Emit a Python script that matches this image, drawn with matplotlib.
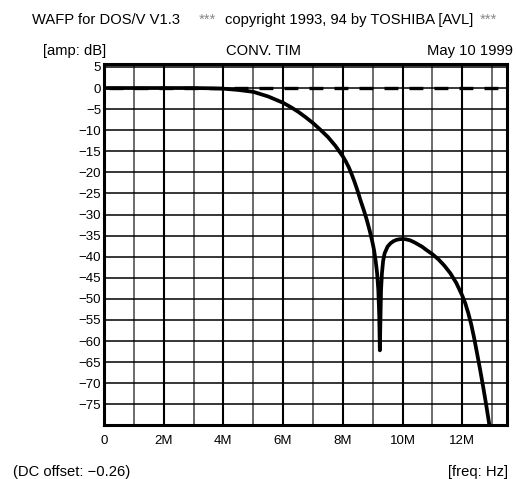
import matplotlib
matplotlib.use("Agg")
import matplotlib.pyplot as plt
from matplotlib.ticker import FuncFormatter

plt.rcParams["font.family"] = ["Liberation Sans", "DejaVu Sans"]
plt.rcParams["lines.scale_dashes"] = False

# frequency response (MHz, dB)
freq_mhz = [0, 1, 2, 3, 3.5, 4, 4.5, 5, 5.5, 6, 6.25, 6.5, 6.75, 7, 7.25,
            7.5, 7.75, 8, 8.1, 8.2, 8.3, 8.4, 8.5, 8.6, 8.7, 8.8, 8.9, 9.0,
            9.05, 9.1, 9.15, 9.19, 9.22, 9.24, 9.26, 9.28, 9.31, 9.35, 9.4,
            9.5, 9.6, 9.7, 9.8, 9.9, 10.0, 10.1, 10.25, 10.4, 10.5, 10.65,
            10.8, 11.0, 11.2, 11.4, 11.6, 11.8, 12.0, 12.1, 12.2, 12.3, 12.4,
            12.5, 12.6, 12.7, 12.8, 12.9, 12.95]
amp_db = [0, 0, 0, 0, -0.05, -0.15, -0.45, -0.9, -2.0, -3.5, -4.5, -5.6,
          -6.9, -8.3, -9.9, -11.6, -13.7, -16.2, -17.4, -18.8, -20.5, -22.4,
          -24.5, -26.8, -28.9, -31.2, -33.8, -36.8, -38.6, -41, -44, -48,
          -54, -62.2, -55, -48, -44, -41, -39.2, -37.6, -36.8, -36.3, -36.0,
          -35.85, -35.8, -35.85, -36.1, -36.6, -37, -37.6, -38.4, -39.4,
          -40.6, -42.1, -43.9, -46.2, -49.2, -51, -53.3, -56, -59.3, -63,
          -66.8, -70.8, -75, -79.5, -81.5]
ref_db = 0.0

y_ticks = list(range(5, -80, -5))
x_ticks_mhz = [0, 2, 4, 6, 8, 10, 12]

fig = plt.figure(figsize=(5.16, 4.79), dpi=100)
ax = fig.add_axes([104 / 516, 1 - 425.4 / 479, 403 / 516, 361.4 / 479])

ax.set_xlim(0, 13.5)
ax.set_ylim(-80, 5.7)

# grid: even MHz heavier than odd
for m in range(1, 14):
    if m % 2 == 0:
        ax.axvline(m, color="black", lw=1.5, zorder=1)
    else:
        ax.axvline(m, color="#444444", lw=1.1, zorder=1)
for v in y_ticks:
    ax.axhline(v, color="black", lw=1.1, zorder=1)

ax.plot([0, 13.5], [ref_db, ref_db], color="black", lw=2.4,
        linestyle=(14.4, (10, 8)), solid_capstyle="butt", zorder=2)
ax.plot(freq_mhz, amp_db, color="black", lw=2.7, zorder=3,
        solid_joinstyle="round")

for s in ax.spines.values():
    s.set_linewidth(2.2)
    s.set_zorder(4)

ax.set_yticks(y_ticks)
ax.set_xticks(x_ticks_mhz)
ax.xaxis.set_major_formatter(FuncFormatter(lambda v, p: "0" if v == 0 else f"{int(v)}M"))
ax.yaxis.set_major_formatter(FuncFormatter(lambda v, p: f"{int(v)}".replace("-", "\u2212")))
ax.tick_params(length=0, labelsize=9.5, pad=2)
ax.tick_params(axis="x", pad=7)

fs = 10.6
fig.text(32 / 516, 1 - 24 / 479, "WAFP for DOS/V V1.3", fontsize=fs, va="baseline")
fig.text(199 / 516, 1 - 24 / 479, "***", fontsize=fs, va="baseline", color="#888888")
fig.text(225 / 516, 1 - 24 / 479, "copyright 1993, 94 by TOSHIBA [AVL]", fontsize=fs, va="baseline")
fig.text(480 / 516, 1 - 24 / 479, "***", fontsize=fs, va="baseline", color="#888888")

fig.text(43 / 516, 1 - 55 / 479, "[amp: dB]", fontsize=fs, va="baseline")
fig.text(263 / 516, 1 - 55 / 479, "CONV. TIM", fontsize=fs, va="baseline", ha="center")
fig.text(513 / 516, 1 - 55 / 479, "May 10 1999", fontsize=fs, va="baseline", ha="right")

fig.text(13 / 516, 1 - 476 / 479, "(DC offset: \u22120.26)", fontsize=fs, va="baseline")
fig.text(508 / 516, 1 - 476 / 479, "[freq: Hz]", fontsize=fs, va="baseline", ha="right")

fig.savefig("out.png", dpi=100)
